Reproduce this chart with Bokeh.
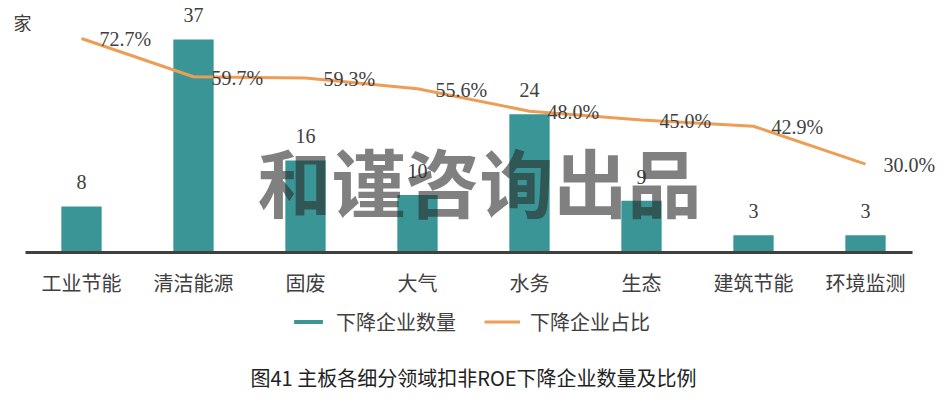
from bokeh.plotting import figure
from bokeh.models import ColumnDataSource, Range1d, Legend, LegendItem, Label
from bokeh.core.properties import value
from bokeh.embed import file_html
from bokeh.resources import INLINE

categories = ["工业节能", "清洁能源", "固废", "大气", "水务", "生态", "建筑节能", "环境监测"]
counts = [8, 37, 16, 10, 24, 9, 3, 3]
ratios = [72.7, 59.7, 59.3, 55.6, 48.0, 45.0, 42.9, 30.0]
count_labels = [str(c) for c in counts]
ratio_labels = [f"{r:.1f}%" for r in ratios]
unit_label = "家"
watermark = "和谨咨询出品"
chart_title = "图41 主板各细分领域扣非ROE下降企业数量及比例"

TEAL = "#3A9696"
ORANGE = "#ED9E56"
TXT = "#404040"
CJK = "Noto Sans CJK SC"
SERIF = "Liberation Serif"

idx = list(range(len(categories)))
src = ColumnDataSource(dict(x=idx, cat=categories, cnt=counts, ratio=ratios,
                            cnt_lbl=count_labels, ratio_lbl=ratio_labels, zero=[0] * len(idx)))

p = figure(x_range=Range1d(-0.7232, 7.7143), y_range=Range1d(-25.53, 43.77), width=945, height=399,
           output_backend="svg", toolbar_location=None, x_axis_location=None, y_axis_location=None,
           min_border=0)
p.extra_y_ranges = {"pct": Range1d(-49.93, 85.60)}
p.xgrid.visible = False
p.ygrid.visible = False
p.outline_line_color = None

bars = p.vbar(x="x", top="cnt", width=0.36, source=src, fill_color=TEAL, line_color=None)
line = p.line(x="x", y="ratio", source=src, y_range_name="pct", line_color=ORANGE, line_width=3)

# baseline (category axis line)
p.segment(x0=[-0.5], y0=[0], x1=[len(categories) - 0.58], y1=[0], line_color="#404040", line_width=3)

# category labels
p.text(x="x", y="zero", text="cat", source=src, text_align="center", text_baseline="middle",
       y_offset=30, text_font=value(CJK), text_font_size="20px", text_color=TXT)

p.text(x="x", y="cnt", text="cnt_lbl", source=src, text_align="center", text_baseline="middle",
       y_offset=-24, text_font=value(SERIF), text_font_size="20px", text_color=TXT)
p.text(x="x", y="ratio", text="ratio_lbl", source=src, y_range_name="pct", text_align="left",
       text_baseline="middle", x_offset=18, y_offset=1, text_font=value(SERIF),
       text_font_size="20px", text_color=TXT)

p.add_layout(Label(x=3.554, y=12.6, text=watermark, text_align="center", text_baseline="middle",
                   text_font=CJK, text_font_style="bold", text_font_size="74px",
                   text_color="#2b2b2b", text_alpha=0.6))
p.add_layout(Label(x=-0.527, y=39.95, text=unit_label, text_align="center", text_baseline="middle",
                   text_font=CJK, text_font_size="18px", text_color=TXT))
p.add_layout(Label(x=3.5, y=-21.7, text=chart_title, text_align="center", text_baseline="middle",
                   text_font=CJK, text_font_size="20px", text_color="#222222"))

legend = Legend(items=[LegendItem(label="下降企业数量", renderers=[bars]),
                       LegendItem(label="下降企业占比", renderers=[line])],
                orientation="horizontal", location=(290, 63), glyph_width=36, glyph_height=5,
                label_standoff=10, spacing=28, margin=0, padding=0, border_line_color=None,
                label_text_font=CJK, label_text_font_size="20px", label_text_color=TXT,
                background_fill_alpha=0)
p.add_layout(legend)

open("out.html", "w").write(file_html(p, INLINE))
